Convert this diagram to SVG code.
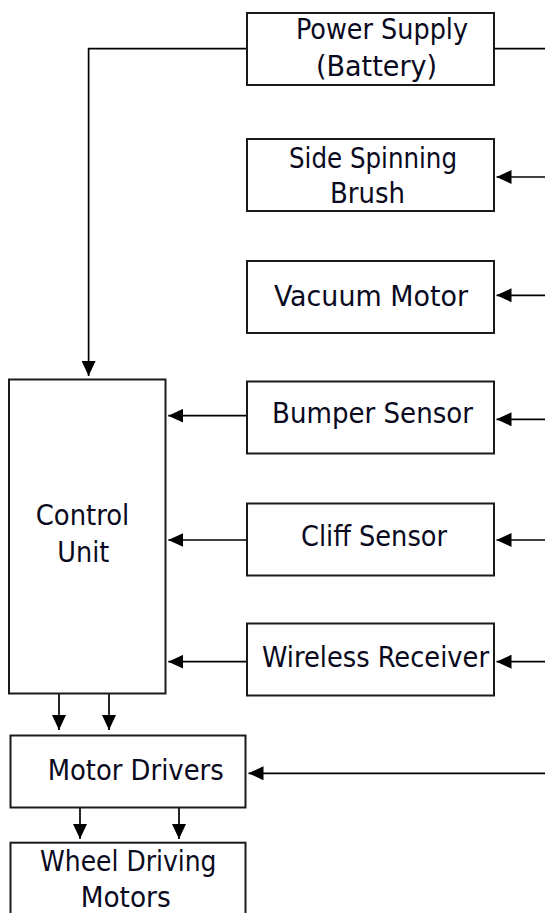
<svg xmlns="http://www.w3.org/2000/svg" width="545" height="913" viewBox="0 0 545 913">
<defs>
<marker id="ah" markerWidth="15" markerHeight="14" refX="15" refY="7" orient="auto" markerUnits="userSpaceOnUse">
<path d="M0,0 L15,7 L0,14 Z" fill="#000"/>
</marker>
<style>
.box{fill:#fff;stroke:#1a1a1a;stroke-width:2}
.t{font-family:"DejaVu Sans Condensed","DejaVu Sans",sans-serif;font-stretch:condensed;font-size:29px;fill:#0a0a1e}
.c{fill:none;stroke:#000;stroke-width:1.7}
.a{marker-end:url(#ah)}
</style>
</defs>
<rect width="545" height="913" fill="#fff"/>
<g id="connectors">
<path class="c a" d="M247,48.7 H88.6 V376"/>
<path class="c" d="M494,48.7 H545"/>
<path class="c a" d="M545,177 H496.5"/>
<path class="c a" d="M545,295.3 H496.5"/>
<path class="c a" d="M545,419.3 H496.5"/>
<path class="c a" d="M545,540 H496.5"/>
<path class="c a" d="M545,661.7 H496.5"/>
<path class="c a" d="M545,773.3 H248.5"/>
<path class="c a" d="M247,415.7 H168.3"/>
<path class="c a" d="M247,540 H168.3"/>
<path class="c a" d="M247,661.7 H168.3"/>
<path class="c a" d="M59,693.3 V730"/>
<path class="c a" d="M109,693.3 V730"/>
<path class="c a" d="M80,807.3 V839"/>
<path class="c a" d="M179,807.3 V839"/>
</g>
<g id="power-supply">
<rect class="box" x="247" y="13" width="247" height="72"/>
<text class="t" x="296" y="39" textLength="172" lengthAdjust="spacingAndGlyphs">Power Supply</text>
<text class="t" x="316" y="76" textLength="121" lengthAdjust="spacingAndGlyphs">(Battery)</text>
</g>
<g id="side-spinning-brush">
<rect class="box" x="247" y="139" width="247" height="72"/>
<text class="t" x="289" y="168" textLength="168" lengthAdjust="spacingAndGlyphs">Side Spinning</text>
<text class="t" x="330" y="203" textLength="75" lengthAdjust="spacingAndGlyphs">Brush</text>
</g>
<g id="vacuum-motor">
<rect class="box" x="247" y="261" width="247" height="72"/>
<text class="t" x="274" y="306" textLength="194" lengthAdjust="spacingAndGlyphs">Vacuum Motor</text>
</g>
<g id="bumper-sensor">
<rect class="box" x="247" y="381.5" width="247" height="72"/>
<text class="t" x="272" y="423" textLength="201" lengthAdjust="spacingAndGlyphs">Bumper Sensor</text>
</g>
<g id="cliff-sensor">
<rect class="box" x="247" y="503.5" width="247" height="72"/>
<text class="t" x="301" y="546" textLength="146" lengthAdjust="spacingAndGlyphs">Cliff Sensor</text>
</g>
<g id="wireless-receiver">
<rect class="box" x="247" y="623.5" width="247" height="72"/>
<text class="t" x="262" y="667" textLength="227" lengthAdjust="spacingAndGlyphs">Wireless Receiver</text>
</g>
<g id="control-unit">
<rect class="box" x="9" y="379.5" width="156.5" height="314"/>
<text class="t" x="35.7" y="525" textLength="93.6" lengthAdjust="spacingAndGlyphs">Control</text>
<text class="t" x="57.3" y="562" textLength="52" lengthAdjust="spacingAndGlyphs">Unit</text>
</g>
<g id="motor-drivers">
<rect class="box" x="10.5" y="735.5" width="235" height="72"/>
<text class="t" x="47.7" y="780" textLength="176" lengthAdjust="spacingAndGlyphs">Motor Drivers</text>
</g>
<g id="wheel-driving-motors">
<rect class="box" x="10.5" y="842.7" width="235" height="90"/>
<text class="t" x="40" y="871" textLength="176.5" lengthAdjust="spacingAndGlyphs">Wheel Driving</text>
<text class="t" x="80.7" y="907" textLength="90" lengthAdjust="spacingAndGlyphs">Motors</text>
</g>
</svg>
